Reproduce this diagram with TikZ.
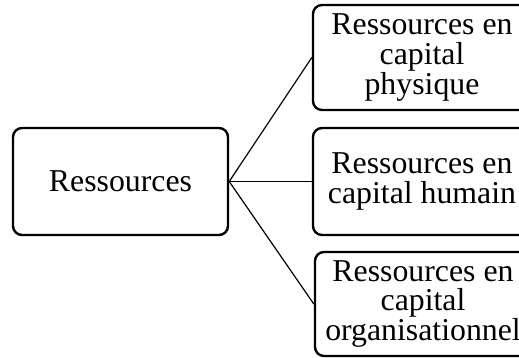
\documentclass[tikz,border=0pt]{standalone}
\usepackage{fontspec}
\setmainfont{Liberation Serif}
\begin{document}
\begin{tikzpicture}[x=1pt,y=-1pt,
  box/.style={draw, line width=2.4pt, rounded corners=9pt, align=center,
    inner sep=0pt, font=\fontsize{31.8}{29.6}\selectfont},
  link/.style={line width=1.2pt}]
  \clip (0,0) rectangle (519,358);
  \useasboundingbox (0,0) rectangle (519,358);
  % root
  \node[box, minimum width=215pt, minimum height=107pt] (root) at (120.5,181.5) {Ressources};
  % branches
  \node[box, minimum width=218pt, minimum height=105pt] (phys) at (422,57.5)
    {Ressources en\\capital\\physique};
  \node[box, minimum width=218pt, minimum height=107pt] (hum) at (422,181.5)
    {Ressources en\\capital humain};
  \node[box, minimum width=216pt, minimum height=104pt] (org) at (423,304)
    {Ressources en\\capital\\organisationnel};
  % connectors
  \draw[link] (root.east) -- (phys.west);
  \draw[link] (root.east) -- (hum.west);
  \draw[link] (root.east) -- (org.west);
\end{tikzpicture}
\end{document}
